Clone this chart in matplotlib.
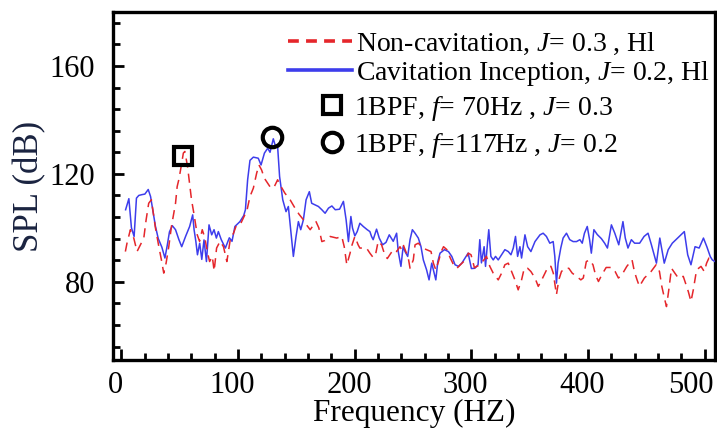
import matplotlib
matplotlib.use("Agg")
import matplotlib.pyplot as plt
from matplotlib.lines import Line2D
from matplotlib.ticker import MultipleLocator
from matplotlib.transforms import ScaledTranslation

plt.rcParams['font.family'] = ['Liberation Serif', 'DejaVu Serif']
plt.rcParams['mathtext.fontset'] = 'custom'
plt.rcParams['mathtext.rm'] = 'Liberation Serif'
plt.rcParams['mathtext.it'] = 'Liberation Serif:italic'

# ---- data: Non-cavitation (J=0.3) ----
nc_freq = [3.6, 5, 7.9, 10.8, 13.6, 16.5, 19.4, 21.4, 23.6, 25.9, 27.1, 29.4, 32.3, 34.5, 36.5, 38.5,
           40.8, 43.1, 45.1, 46.6, 48, 49.5, 51.4, 53.3, 54.6, 56.9, 58.5, 60.3, 62.3, 65.2, 67.2, 69.5,
           71.8, 73.8, 75.8, 78.1, 79.7, 81.8, 84.8, 87.7, 90.6, 93.5, 96.3, 98.9, 102.6, 106, 107.6,
           110.4, 113.3, 116.1, 118.1, 120.4, 122.7, 125.6, 128.4, 131.3, 134.1, 136.2, 140.4, 144.8,
           149, 152.5, 156.2, 159, 162, 167, 169.4, 172, 174.6, 179.1, 184.8, 189.1, 191.2, 193.4,
           196.2, 197.4, 200.3, 203.1, 204.6, 210.3, 213.2, 216, 218, 220.3, 223.2, 225.5, 228.1,
           233.2, 236.1, 239, 240.4, 241.8, 246.1, 247.6, 250.4, 251.9, 254.7, 257.6, 261.2, 265.6,
           267.6, 269.7, 272, 274.3, 276.3, 279.2, 282.1, 284.9, 287.8, 290.7, 295, 297.6, 299.9,
           302.8, 305.8, 308.5, 310.9, 313.1, 316, 318.9, 323.2, 326.1, 328.9, 331.8, 334.7, 337.5,
           340.3, 343.2, 345.5, 348.4, 351.2, 354.7, 357.5, 359.8, 363.3, 366.1, 368.4, 370.4, 373.1,
           375.1, 377.4, 380.3, 383.7, 386.6, 390.4, 394, 396.1, 398.7, 401.5, 404.4, 406.6, 409.1,
           411.9, 415.7, 420.5, 423.4, 426.2, 429.1, 433.4, 437.9, 439.9, 442.2, 444.2, 448.5, 454.2,
           458.5, 461.4, 463.4, 466, 467.4, 469.4, 471.7, 474.6, 477.5, 481.8, 486.1, 488.4, 490.4,
           493.2, 497, 499.8, 501.8, 503.8, 506.7, 509]
nc_spl = [91.2, 94.3, 99.3, 96.2, 91.2, 93.7, 96.2, 103, 109.1, 110.4, 106.7, 99.9, 93, 88.1, 83.2, 86.9,
          93, 100.5, 105.4, 109.1, 115.3, 118, 122.7, 127.7, 128.3, 122.7, 117, 110.4, 105.4, 97.4, 95, 99.3,
          96.2, 91.2, 87.5, 89.4, 84, 92.5, 95, 93, 87.5, 95.6, 98, 101.1, 101.7, 104.8, 106,
          111.6, 114.7, 120.2, 123.3, 121.4, 118.4, 116.5, 114.7, 115.3, 117.8, 115.9, 112.8, 110.4,
          107.3, 105, 103, 101, 99.3, 102.3, 100, 94.9, 95.3, 96.8, 96.2, 96.8, 93, 86.3,
          90.6, 93, 96.8, 93.7, 92.5, 92.5, 90.6, 89, 90, 95, 93.7, 90.6, 88.6,
          91.9, 91.2, 93, 91.9, 93.7, 88.8, 85, 88.1, 93.7, 94.3, 93, 92, 91.2,
          86.9, 84.4, 87.5, 91.2, 93, 91.9, 88.8, 86.3, 85, 86.3, 88.1, 90.6, 90,
          85.2, 85.9, 86.9, 88.1, 89.4, 85.7, 83.2, 80.7, 83.2, 86.3, 86.9, 83.8, 80.7,
          77, 80.7, 85, 85, 83.8, 81.4, 78.3, 80.1, 83.2, 85.7, 85.7, 83.2, 75.2,
          80.7, 83.8, 85, 85, 83.2, 82, 80.7, 81.4, 87.5, 88.1, 86.3, 82.5, 80.1,
          82.5, 85.3, 85.3, 83.8, 81.4, 82.5, 85.7, 88.1, 83.8, 80.7, 78.3, 81.4, 83.8,
          86.3, 83.8, 78.3, 73.3, 70.8, 77, 85, 83.2, 81.4, 82, 76.4, 72.7, 77,
          84.4, 85.7, 83.8, 86.9, 88.8, 88.1, 88]

# ---- data: Cavitation inception (J=0.2) ----
ci_freq = [3.8, 6.6, 8.8, 11.1, 13.1, 15.1, 17.8, 20.3, 23.2, 25.2, 27.2, 29.4, 31.8, 34.9, 37.5, 39.5,
           41.4, 43.8, 46.6, 49.5, 51.9, 55.2, 58.7, 61.3, 62.5, 64, 65.4, 67.3, 69.1, 71, 73.1, 75.3,
           77.6, 79.6, 81.6, 83.3, 85.8, 89.3, 92.7, 95, 97.5, 101.8, 105, 106.5, 108.4, 110.4, 113.3,
           117.5, 119.9, 122.8, 125.6, 127.6, 130.4, 132.4, 134, 135.8, 138.5, 141.3, 143.3, 145.3,
           147.6, 149.9, 151.9, 153.9, 156.2, 158.5, 161.3, 163.3, 166.2, 169.1, 172, 174.8, 177.7,
           180.6, 183.5, 187.2, 190.5, 192.8, 194.8, 196.9, 198.3, 200.3, 202.3, 204.6, 207.5, 209.2,
           210.9, 213.2, 214.6, 216, 218.9, 221.2, 224.1, 227, 229.8, 233.2, 236.1, 237.5, 239.8,
           241.7, 243.3, 245.6, 247.6, 249.6, 251.9, 254.7, 257, 259, 261.8, 263.9, 266.2, 267.6,
           269.7, 271.4, 273.3, 277.1, 280.5, 283.4, 286.2, 289.1, 292, 294.8, 297.4, 300.2, 303.1,
           305.9, 307.4, 308.8, 311.1, 312.3, 314, 315.1, 316.9, 318.9, 320.9, 323.2, 326.1, 328.9,
           331.8, 334.1, 336.1, 338, 339.8, 341.8, 343.2, 346.1, 348.4, 351.2, 354.7, 359, 361.7,
           364.5, 367.4, 370.3, 371.7, 373.1, 374.5, 376.8, 378.8, 381.7, 384.5, 387.4, 390.3, 393.2,
           395.2, 397.1, 399.5, 401.5, 403, 405.2, 408.1, 411.6, 414.4, 416.8, 420.2, 423.1, 426.5,
           430.1, 432.1, 434.4, 437.3, 440.1, 444.4, 448.2, 451.6, 454.5, 458.8, 461.7, 465.5, 468.9,
           472.4, 477, 479.8, 482.7, 485.6, 488.4, 491.9, 495.4, 499.1, 502, 504.9, 506.7, 509]
ci_spl = [106.7, 110.8, 100, 96.8, 111, 112, 112.3, 112.5, 114.2, 111.6, 106.3, 100.5, 96, 92.8, 88.8, 93.5,
          98.5, 100.8, 99.3, 95.6, 93, 96.8, 100.5, 104.8, 99.3, 95, 90, 94.3, 88.3, 95.5, 87.5, 101.1,
          97.4, 99.3, 96.2, 98.6, 95.6, 92.5, 96.3, 95, 100.5, 102.3, 104.5, 106.7, 117.8, 125, 126.2,
          125.8, 123.3, 127.7, 129.5, 128, 133, 130, 130.8, 119, 110.4, 106, 107.9, 99.3,
          89.4, 96.8, 102.3, 99.3, 103, 110.4, 113.4, 109.1, 108.5, 107.9, 106.7, 105.4, 107.3,
          108.1, 106.7, 106.9, 109.8, 103, 94.9, 104.2, 99.9, 97, 98.6, 101.7, 100.5, 99.9,
          99.3, 98.6, 96.8, 95.6, 99.5, 96.2, 93.7, 94.6, 97.4, 95, 98, 91.2, 85.7,
          93, 91.2, 89.4, 95.6, 99.3, 98, 96.2, 93, 88.1, 84.4, 80.7, 86.9, 84.4,
          80.7, 87.5, 90.6, 91.9, 91.2, 89.4, 86.3, 85.7, 86.9, 88.8, 90.6, 84.9, 85,
          86.3, 95.6, 87, 93, 85.7, 94.3, 99.3, 89.4, 88.1, 89.4, 88.1, 90, 91.9,
          91.2, 90, 92.5, 96.8, 89.4, 93, 88.8, 97.4, 93, 91.2, 94.9, 97.4, 98,
          96.8, 94.3, 94.9, 89.4, 79.5, 86.9, 92.5, 96.2, 98, 95.6, 94.9, 94.9, 95.6,
          94.3, 98, 100.5, 95.6, 90.6, 99.3, 97.5, 96, 94.3, 92.5, 101.1, 98, 93.7,
          102.3, 96.2, 92.5, 95.6, 94.3, 94.3, 96.8, 98, 93.7, 86.9, 96.2, 86.9, 91.9,
          94.3, 96.2, 97.4, 98.6, 90, 86.3, 93, 92.5, 96.2, 93, 89.4, 88.1, 87.5]

# ---- 1BPF markers ----
bpf_nc = (53.4, 126.8)
bpf_ci = (129.4, 133.5)

labels_lines = ["Non-cavitation, $J$= 0.3 , Hl", "Cavitation Inception, $J$= 0.2, Hl"]
labels_marks = ["1BPF, $f$= 70Hz , $J$= 0.3", "1BPF, $f$=117Hz , $J$= 0.2"]
xticks = [0, 100, 200, 300, 400, 500]
yticks = [80, 120, 160]

RED = '#e5262b'
BLUE = '#3d3dec'

W, H = 717, 438
fig = plt.figure(figsize=(W / 100, H / 100), dpi=100)
ax = fig.add_axes([113 / W, 1 - 360 / H, (715 - 113) / W, (360 - 12) / H])

ax.plot(ci_freq, ci_spl, color=BLUE, lw=1.1, zorder=3)
ax.plot(nc_freq, nc_spl, color=RED, lw=1.1, dashes=(6, 4), zorder=4)
ax.plot([bpf_nc[0]], [bpf_nc[1]], marker='s', ms=13, mfc='none', mec='black', mew=3, zorder=5)
ax.plot([bpf_ci[0]], [bpf_ci[1]], marker='o', ms=14, mfc='none', mec='black', mew=3, zorder=5)

ax.set_xlim(-7, 509)
ax.set_ylim(51, 180)
ax.set_xticks(xticks)
ax.set_yticks(yticks)
ax.xaxis.set_minor_locator(MultipleLocator(20))
ax.set_yticks([56 + 8 * k for k in range(16)], minor=True)
ax.tick_params(which='both', direction='in', top=False, right=False, width=2, colors='black',
               labelsize=22)
ax.tick_params(which='major', length=8)
ax.tick_params(which='minor', length=5)
ax.tick_params(axis='y', pad=13)
ax.tick_params(axis='x', pad=8)
xlabels = ax.get_xticklabels()
for i, lbl in enumerate(xlabels):
    dx = -4 if i < len(xlabels) - 1 else -10
    lbl.set_transform(lbl.get_transform() + ScaledTranslation(dx / 72, 0, fig.dpi_scale_trans))
for s in ax.spines.values():
    s.set_linewidth(2.4)
    s.set_color('black')

ax.set_xlabel("Frequency (HZ)", fontsize=22.5, labelpad=-1)
ax.set_ylabel("SPL (dB)", fontsize=25, color='#1a2340', labelpad=2)

h_lines = [Line2D([], [], color=RED, lw=2.6, dashes=(3, 2)),
           Line2D([], [], color=BLUE, lw=2.6)]
leg1 = ax.legend(h_lines, labels_lines, loc='upper left', frameon=False, fontsize=20,
                 bbox_to_anchor=(288 / W, 1 - 31 / H), bbox_transform=fig.transFigure,
                 borderpad=0, borderaxespad=0, handlelength=2.3, handletextpad=0.15,
                 labelspacing=0.05)
ax.add_artist(leg1)
h_marks = [Line2D([], [], ls='none', marker='s', ms=13, mfc='none', mec='black', mew=3),
           Line2D([], [], ls='none', marker='o', ms=14, mfc='none', mec='black', mew=3)]
leg2 = ax.legend(h_marks, labels_marks, loc='upper left', frameon=False, fontsize=20,
                 bbox_to_anchor=(318 / W, 1 - 94 / H), bbox_transform=fig.transFigure,
                 borderpad=0, borderaxespad=0, handlelength=1.0, handletextpad=0.3,
                 labelspacing=0.27)

fig.savefig("out.png", dpi=100)
